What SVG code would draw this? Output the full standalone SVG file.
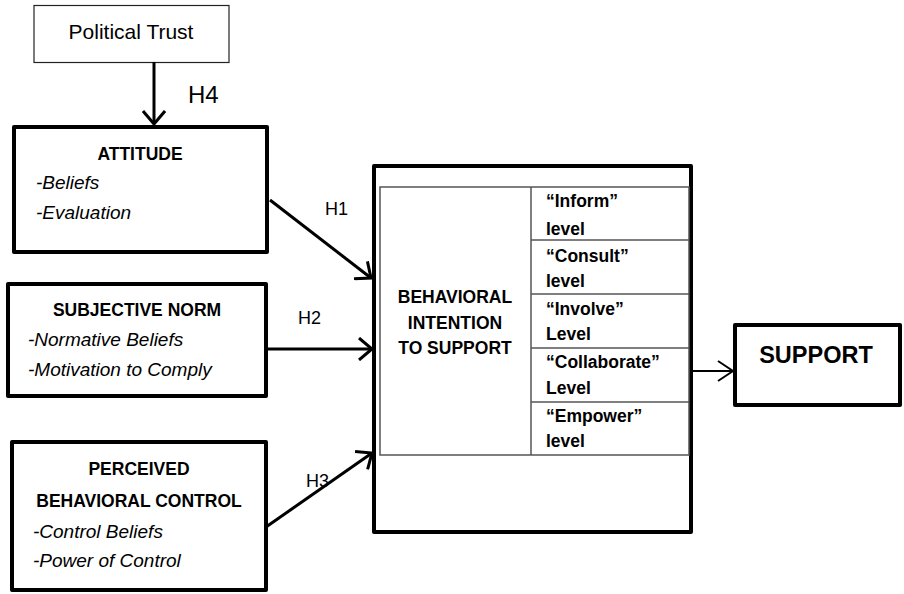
<svg xmlns="http://www.w3.org/2000/svg" width="904" height="594" viewBox="0 0 904 594">
<style>
text{font-family:"Liberation Sans",Arial,sans-serif;fill:#000}
.b{font-weight:bold;font-size:17.5px}
.i{font-style:italic;font-size:19px}
.h{font-size:18px}
.box{fill:#fff;stroke:#000;stroke-width:4;stroke-linejoin:round}
.tbl{fill:none;stroke:#555;stroke-width:1.5}
.con{fill:none;stroke:#000;stroke-width:3}
</style>
<defs>
<marker id="ah" markerUnits="userSpaceOnUse" viewBox="0 0 16 24" refX="14" refY="12" markerWidth="16" markerHeight="24" orient="auto">
<path d="M1,1 L14,12 L1,23" fill="none" stroke="#000" stroke-width="3"/>
</marker>
<marker id="ah2" markerUnits="userSpaceOnUse" viewBox="0 0 18 22" refX="16" refY="11" markerWidth="18" markerHeight="22" orient="auto">
<path d="M1,1 L16,11 L1,21" fill="none" stroke="#000" stroke-width="2"/>
</marker>
</defs>
<rect width="904" height="594" fill="#fff"/>
<g id="political-trust">
<rect x="34" y="5.5" width="195" height="57" fill="#fff" stroke="#222" stroke-width="1.2"/>
<text x="131" y="39" text-anchor="middle" font-size="21">Political Trust</text>
</g>
<g id="attitude">
<rect class="box" x="14" y="127" width="253" height="125"/>
<text class="b" x="140" y="160" text-anchor="middle">ATTITUDE</text>
<text class="i" x="36" y="189">-Beliefs</text>
<text class="i" x="36" y="219">-Evaluation</text>
</g>
<g id="subjective-norm">
<rect class="box" x="8" y="284" width="258" height="112"/>
<text class="b" x="137" y="316" text-anchor="middle">SUBJECTIVE NORM</text>
<text class="i" x="28" y="346">-Normative Beliefs</text>
<text class="i" x="28" y="376">-Motivation to Comply</text>
</g>
<g id="pbc">
<rect class="box" x="12" y="442" width="254" height="148"/>
<text class="b" x="139" y="475" text-anchor="middle">PERCEIVED</text>
<text class="b" x="139" y="507" text-anchor="middle">BEHAVIORAL CONTROL</text>
<text class="i" x="33" y="538">-Control Beliefs</text>
<text class="i" x="33" y="567">-Power of Control</text>
</g>
<g id="behavioral-intention">
<rect class="box" x="374" y="166" width="317" height="366"/>
<rect class="tbl" x="380" y="187" width="309" height="268"/>
<line class="tbl" x1="531" y1="187" x2="531" y2="455"/>
<line class="tbl" x1="531" y1="240" x2="689" y2="240"/>
<line class="tbl" x1="531" y1="294" x2="689" y2="294"/>
<line class="tbl" x1="531" y1="348" x2="689" y2="348"/>
<line class="tbl" x1="531" y1="402" x2="689" y2="402"/>
<text class="b" x="455" y="303" text-anchor="middle">BEHAVIORAL</text>
<text class="b" x="455" y="329" text-anchor="middle">INTENTION</text>
<text class="b" x="455" y="354" text-anchor="middle">TO SUPPORT</text>
<text class="b" x="546" y="207">“Inform”</text>
<text class="b" x="546" y="235">level</text>
<text class="b" x="546" y="262">“Consult”</text>
<text class="b" x="546" y="287">level</text>
<text class="b" x="546" y="315">“Involve”</text>
<text class="b" x="546" y="340">Level</text>
<text class="b" x="546" y="368">“Collaborate”</text>
<text class="b" x="546" y="394">Level</text>
<text class="b" x="546" y="422">“Empower”</text>
<text class="b" x="546" y="447">level</text>
</g>
<g id="support">
<rect class="box" x="735" y="325" width="165" height="80"/>
<text x="816" y="363" text-anchor="middle" font-weight="bold" font-size="23.5">SUPPORT</text>
</g>
<g id="connectors">
<line class="con" x1="154" y1="62" x2="154" y2="124" marker-end="url(#ah)"/>
<line class="con" x1="270" y1="200" x2="371" y2="278" marker-end="url(#ah)"/>
<line class="con" x1="266" y1="349" x2="372" y2="349" marker-end="url(#ah)"/>
<line class="con" x1="266" y1="527" x2="372" y2="453" marker-end="url(#ah)"/>
<line x1="693" y1="371" x2="733" y2="371" stroke="#000" stroke-width="2" marker-end="url(#ah2)"/>
<text x="188" y="103" font-size="24">H4</text>
<text class="h" x="325" y="215">H1</text>
<text class="h" x="298" y="324">H2</text>
<text class="h" x="306" y="487">H3</text>
</g>
</svg>
